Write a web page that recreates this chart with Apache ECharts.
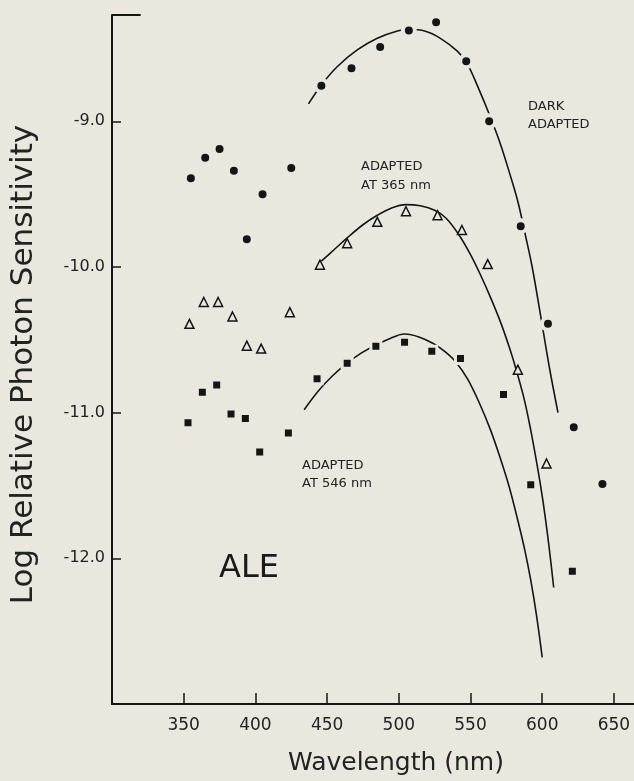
<!DOCTYPE html>
<html>
<head>
<meta charset="utf-8">
<script src="https://cdn.jsdelivr.net/npm/echarts@6/dist/echarts.min.js"></script>
<style>
html,body{margin:0;padding:0;background:#eae8de;}
#chart{width:634px;height:781px;}
</style>
</head>
<body>
<div id="chart"></div>
<script>
// ---- tick labels ----
const xTickLabels = [350, 400, 450, 500, 550, 600, 650];
const yTickLabels = [-9, -10, -11, -12];

// ---- data points: Dark adapted (filled circles) ----
const darkWl  = [355, 365, 375, 385, 394, 405, 425, 446, 467, 487, 507, 526, 547, 563, 585, 604, 622, 642];
const darkVal = [-9.39, -9.25, -9.19, -9.34, -9.81, -9.50, -9.32, -8.755, -8.635, -8.49, -8.376, -8.32, -8.587, -9.0, -9.72, -10.39, -11.10, -11.49];

// ---- Adapted at 365 nm (open triangles) ----
const triWl  = [354, 364, 374, 384, 394, 404, 424, 445, 464, 485, 505, 527, 544, 562, 583, 603];
const triVal = [-10.39, -10.24, -10.24, -10.34, -10.54, -10.56, -10.31, -9.984, -9.837, -9.69, -9.617, -9.644, -9.746, -9.98, -10.705, -11.349];

// ---- Adapted at 546 nm (filled squares) ----
const sqWl  = [353, 363, 373, 383, 393, 403, 423, 443, 464, 484, 504, 523, 543, 573, 592, 621];
const sqVal = [-11.07, -10.86, -10.81, -11.01, -11.04, -11.27, -11.14, -10.767, -10.66, -10.544, -10.517, -10.578, -10.628, -10.875, -11.494, -12.088];

// ---- fitted template curves ----
const darkCurveWl  = [437, 446, 457, 471, 485, 499, 507, 518, 529, 541, 548, 555, 563, 571, 578, 583, 588, 593, 599, 605, 611];
const darkCurveVal = [-8.88, -8.75, -8.625, -8.51, -8.43, -8.38, -8.37, -8.38, -8.43, -8.52, -8.61, -8.76, -8.95, -9.16, -9.38, -9.55, -9.77, -10.0, -10.34, -10.69, -11.0];

const triCurveWl  = [446, 455, 464, 475, 485, 495, 505, 515, 525, 533, 542, 550, 557, 564, 571, 577, 582, 587, 591, 595, 599, 602, 605, 608];
const triCurveVal = [-9.96, -9.88, -9.80, -9.71, -9.645, -9.595, -9.572, -9.58, -9.61, -9.665, -9.78, -9.915, -10.055, -10.21, -10.38, -10.55, -10.71, -10.89, -11.07, -11.28, -11.51, -11.71, -11.94, -12.20];

const sqCurveWl  = [434, 444, 454, 464, 474, 484, 494, 504, 514, 524, 532, 540, 548, 556, 564, 571, 577, 583, 588, 592, 596, 600];
const sqCurveVal = [-10.98, -10.85, -10.745, -10.66, -10.59, -10.535, -10.49, -10.46, -10.48, -10.525, -10.58, -10.655, -10.77, -10.93, -11.12, -11.32, -11.51, -11.74, -11.95, -12.15, -12.39, -12.68];

// ---- axis ranges ----
const xMin = 300, xMax = 664, yMin = -13, yMax = -8.27;

const BG = '#eae8de';
const INK = '#151515';
const FONT = 'DejaVu Sans, Liberation Sans, sans-serif';

function zip(a, b) { return a.map((v, i) => [v, b[i]]); }

const chart = echarts.init(document.getElementById('chart'), null, {renderer: 'canvas'});

const curveStyle = {color: INK, width: 1.6};

const option = {
  backgroundColor: BG,
  animation: false,
  grid: {left: 110, right: 0, top: 15, bottom: 70, containLabel: false},
  xAxis: {
    type: 'value', min: xMin, max: xMax, interval: 50,
    axisLine: {lineStyle: {color: INK, width: 2}},
    axisTick: {inside: true, length: 11, customValues: xTickLabels, lineStyle: {color: INK, width: 1.5}},
    splitLine: {show: false},
    axisLabel: {
      customValues: xTickLabels,
      formatter: v => String(v),
      fontSize: 17, color: '#222', margin: 13, fontFamily: FONT
    },
    name: 'Wavelength (nm)', nameLocation: 'middle', nameGap: 47,
    nameTextStyle: {fontSize: 25, color: '#222', fontFamily: FONT, padding: [0, 0, 0, 46]}
  },
  yAxis: {
    type: 'value', min: yMin, max: yMax, interval: 1,
    axisLine: {lineStyle: {color: INK, width: 2}},
    axisTick: {inside: true, length: 9, customValues: yTickLabels, lineStyle: {color: INK, width: 1.5}},
    splitLine: {show: false},
    axisLabel: {
      customValues: yTickLabels,
      formatter: v => Number(v).toFixed(1),
      fontSize: 16, color: '#222', margin: 7, fontFamily: FONT
    },
    name: 'Log Relative Photon Sensitivity', nameLocation: 'middle', nameGap: 73,
    nameTextStyle: {fontSize: 31, color: '#222', fontFamily: FONT, padding: [0, 10, 0, 0]}
  },
  series: [
    {type: 'line', name: 'dark fit', data: zip(darkCurveWl, darkCurveVal), smooth: 0.35, showSymbol: false, lineStyle: curveStyle, z: 2,
     markLine: {silent: true, symbol: 'none', label: {show: false}, lineStyle: {color: INK, width: 2, type: 'solid'},
       data: [[{coord: [xMin, yMax]}, {coord: [xMin + 20, yMax]}]]}},
    {type: 'line', name: '365 fit', data: zip(triCurveWl, triCurveVal), smooth: 0.35, showSymbol: false, lineStyle: curveStyle, z: 2},
    {type: 'line', name: '546 fit', data: zip(sqCurveWl, sqCurveVal), smooth: 0.35, showSymbol: false, lineStyle: curveStyle, z: 2},
    {type: 'scatter', name: 'Dark adapted', data: zip(darkWl, darkVal), symbol: 'circle', symbolSize: 12,
     itemStyle: {color: INK, borderColor: BG, borderWidth: 4, opacity: 1}, z: 5},
    {type: 'scatter', name: 'Adapted at 365 nm', data: zip(triWl, triVal), symbol: 'triangle', symbolSize: 9,
     itemStyle: {color: BG, borderColor: INK, borderWidth: 1.5, opacity: 1}, z: 5},
    {type: 'scatter', name: 'Adapted at 546 nm', data: zip(sqWl, sqVal), symbol: 'rect', symbolSize: 10,
     itemStyle: {color: INK, borderColor: BG, borderWidth: 3, opacity: 1}, z: 5}
  ],
  graphic: [
    {type: 'text', left: 528, top: 98, style: {text: 'DARK\nADAPTED', font: '13px ' + FONT, fill: '#222', lineHeight: 18}},
    {type: 'text', left: 361, top: 157, style: {text: 'ADAPTED\nAT 365 nm', font: '13px ' + FONT, fill: '#222', lineHeight: 19}},
    {type: 'text', left: 302, top: 457, style: {text: 'ADAPTED\nAT 546 nm', font: '13px ' + FONT, fill: '#222', lineHeight: 18}},
    {type: 'text', left: 219, top: 553, style: {text: 'ALE', font: '32px ' + FONT, fill: '#1a1a1a'}}
  ]
};
chart.setOption(option);
</script>
</body>
</html>
